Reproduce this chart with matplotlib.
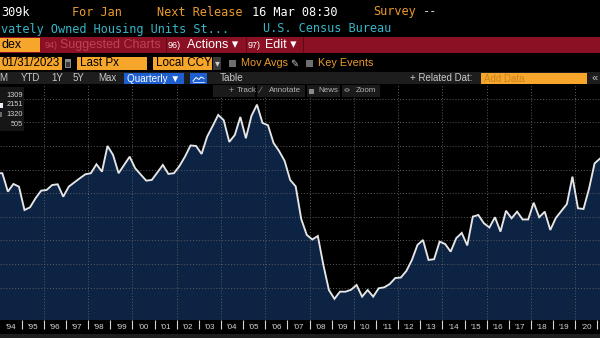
import matplotlib
matplotlib.use("Agg")
import matplotlib.pyplot as plt
from matplotlib.patches import Rectangle, Circle
from matplotlib.lines import Line2D
import numpy as np

# ---------------- data (quarterly housing starts, thousands SAAR) ----------------
first_year = 1993
first_quarter = 4
starts = [1570, 1570, 1414, 1479, 1456, 1258, 1281, 1358, 1422, 1428,
          1470, 1476, 1371, 1456, 1492, 1527, 1561, 1570, 1646, 1583,
          1801, 1725, 1570, 1640, 1710, 1612, 1559, 1507, 1513, 1576,
          1640, 1564, 1570, 1631, 1711, 1805, 1801, 1733, 1880, 1970,
          2064, 2019, 1835, 1894, 2047, 1866, 2055, 2151, 1996, 1976,
          1826, 1758, 1674, 1513, 1458, 1182, 1047, 1008, 1038, 792,
          580, 505, 566, 566, 582, 623, 524, 580, 524, 595,
          603, 631, 682, 686, 742, 835, 962, 1004, 835, 841,
          990, 970, 905, 1019, 1064, 958, 1202, 1216, 1146, 1110,
          1197, 1075, 1252, 1188, 1244, 1178, 1178, 1320, 1197, 1244,
          1089, 1191, 1250, 1309, 1541, 1273, 1267, 1439, 1653, 1695]
label_years = list(range(1994, 2021))
tick_labels = ["'%02d" % (y % 100) for y in label_years]
grid_values = [600, 800, 1000, 1200, 1400, 1600, 1800, 2000, 2200]
grid_years = list(range(1996, 2021, 2))
legend_values = ["1309", "2151", "1320", "505"]

# ---------------- figure helpers (pixel coords) ----------------
W, H = 600, 338
fig = plt.figure(figsize=(6, 3.38), dpi=100, facecolor="black")


def fx(x):
    return x / W


def fy(y):
    return 1 - y / H


def rect(x0, y0, x1, y1, color, z=5):
    fig.add_artist(Rectangle((fx(x0), fy(y1)), (x1 - x0) / W, (y1 - y0) / H,
                             transform=fig.transFigure, facecolor=color,
                             edgecolor="none", zorder=z))


def txt(x, y, s, color, size, family=("Liberation Sans", "DejaVu Sans"),
        ha="left", z=10, weight="normal"):
    fig.text(fx(x), fy(y), s, color=color, fontsize=size, family=list(family),
             ha=ha, va="center", zorder=z, weight=weight)


MONO = ("DejaVu Sans Mono", "DejaVu Sans")
ORANGE_T = "#eb9a2c"
ORANGE_B = "#f6a62a"
CYAN = "#35b6c9"
GRAYT = "#c8c8c8"

# ---------------- main chart ----------------
n = len(starts)
q_index = np.arange(n) + (first_quarter - 1)
t = first_year + q_index / 4 + 0.125

ax = fig.add_axes([0, fy(320), 1, (320 - 84) / H])
ax.set_facecolor("black")
ax.fill_between(t, starts, 0, color="#0c2343", linewidth=0, zorder=1)
ax.plot(t, starts, color="#e6e6e6", lw=1.35, zorder=3, solid_joinstyle="miter")
ax.set_xlim(1994.019, 2021.12)
ax.set_ylim(326, 2326)
for s in ax.spines.values():
    s.set_visible(False)

ax.set_yticks(grid_values)
ax.tick_params(axis="y", left=False, labelleft=False)
ax.set_axisbelow(False)
ax.grid(axis="y", color="#5c5c5c", lw=0.7, linestyle=(0, (1, 2)))
ax.vlines(grid_years, 326, 2326, colors="#5c5c5c", lw=0.7,
          linestyles=(0, (1, 2)), zorder=2.5)

ax.set_xticks(range(1995, 2022))
ax.set_xticklabels([])
ax.tick_params(axis="x", which="major", direction="out", length=6.5,
               width=0.8, color="#d5d5d5")
ax.set_xticks([y + 0.5 for y in label_years], minor=True)
ax.set_xticklabels(tick_labels, minor=True, fontsize=5.8, color="#d8d8d8",
                   family="Liberation Sans")
ax.tick_params(axis="x", which="minor", length=0, pad=3.2)

# bottom scroll strip
rect(0, 334, 600, 338, "#1e1e1e", z=4)

# ---------------- header row 1 & 2 ----------------
txt(1, 12, "309k", "white", 8.6, MONO)
txt(72, 12, "For Jan", ORANGE_T, 8.6, MONO)
txt(157, 12, "Next Release", ORANGE_T, 8.6, MONO)
txt(252, 12, "16 Mar 08:30", "white", 8.6, MONO)
txt(373, 12, "Survey", ORANGE_T, 8.6, MONO)
txt(423, 12, "--", "#d8d8d8", 8.6, MONO)
txt(1, 29, "vately Owned Housing Units St...", CYAN, 8.6, MONO)
txt(263, 29, "U.S. Census Bureau", CYAN, 8.6, MONO)

# ---------------- row 3 (red band) ----------------
rect(0, 37, 600, 53, "#8c1024")
rect(0, 38, 40, 52, ORANGE_B, z=6)
txt(1, 45, "dex", "black", 9)
txt(45, 45, "94)", "#bf4356", 6.5)
txt(60, 45, "Suggested Charts", "#bf4356", 9)
for xs in (165.5, 245.5, 303):
    rect(xs, 37, xs + 1.2, 53, "#5e0a18", z=6)
txt(168, 45, "96)", "white", 6.5)
txt(187, 45, "Actions \u25be", "white", 9)
txt(248, 45, "97)", "white", 6.5)
txt(265, 45, "Edit \u25be", "white", 9)

# ---------------- row 4 ----------------
rect(0, 57, 62, 70, ORANGE_B)
txt(1, 63.5, "01/31/2023", "black", 8.4)
rect(65, 59, 71, 68, "#8a8a8a")
rect(66, 62, 70, 67, "#3a3a3a", z=6)
rect(77, 57, 147, 70, ORANGE_B)
txt(80, 63.5, "Last Px", "black", 8.4)
rect(153, 57, 212, 70, ORANGE_B)
txt(156, 63.5, "Local CCY", "black", 8.4)
rect(213, 57, 221, 70, "#3a3a3a")
txt(217, 63.5, "\u25be", "#cccccc", 7, ha="center")
rect(229, 60, 236, 67, "#6e6e6e")
txt(241, 63.5, "Mov Avgs", ORANGE_T, 7.8)
txt(290, 63.5, "\u270e", "#cccccc", 7, family=("DejaVu Sans",))
rect(306, 60, 313, 67, "#6e6e6e")
txt(318, 63.5, "Key Events", ORANGE_T, 7.8)

# ---------------- row 5 (toolbar) ----------------
rect(0, 72, 600, 84, "#1d1d1d")
txt(-1, 78, "M", GRAYT, 7)
txt(21, 78, "YTD", GRAYT, 7)
txt(51, 78, "1Y", GRAYT, 7)
txt(73, 78, "5Y", GRAYT, 7)
txt(98, 78, "Max", GRAYT, 7)
rect(124, 73, 184, 84, "#1d5fd1", z=6)
txt(127, 78.5, "Quarterly \u25bc", "white", 7.1)
rect(190, 73, 207, 84, "#1d5fd1", z=6)
fig.add_artist(Line2D([fx(193), fx(196), fx(199), fx(201), fx(204)],
                      [fy(81), fy(77.5), fy(79.5), fy(77), fy(78.5)],
                      transform=fig.transFigure, color="white", lw=0.7, zorder=7))
fig.add_artist(Line2D([fx(193), fx(204)], [fy(82), fy(82)],
                      transform=fig.transFigure, color="white", lw=0.5, zorder=7))
txt(220, 78, "Table", GRAYT, 7.2)
txt(410, 78, "+ Related Dat:", GRAYT, 7)
rect(481, 73, 587, 84, ORANGE_B, z=6)
txt(484, 78.5, "Add Data", "#c9831f", 7)
txt(591, 78, "\u00ab", GRAYT, 8)

# ---------------- row 6 (chart buttons) ----------------
for x0, x1 in ((213, 255), (257, 305), (307, 340), (342, 380)):
    rect(x0, 85, x1, 97, "#1a1a1a", z=8)
txt(229, 91, "+", "#9a9a9a", 6.5, z=9)
txt(237, 91, "Track", "#b4b4b4", 5.8, z=9)
txt(260, 91, "\u2215", "#9a9a9a", 6.5, z=9)
txt(269, 91, "Annotate", "#b4b4b4", 5.8, z=9)
rect(309, 88.5, 314, 93.5, "#8a8a8a", z=9)
txt(318, 91, "News", "#b4b4b4", 5.8, z=9)
fig.add_artist(Circle((fx(347), fy(90)), 2.2 / W, transform=fig.transFigure,
                      facecolor="none", edgecolor="#9a9a9a", lw=0.6, zorder=9))
txt(356, 91, "Zoom", "#b4b4b4", 5.8, z=9)

# ---------------- top-left value box ----------------
rect(0, 87, 24, 131, "#161616", z=8)
for i, (v, yy) in enumerate(zip(legend_values, (95.5, 105, 114.5, 124.5))):
    txt(22.5, yy, v, "#d2d2d2", 5.3, ha="right", z=9)
rect(0, 102.5, 2.5, 107.5, "#e8eef8", z=9)
rect(0, 112, 1.5, 117, "#6a6a6a", z=9)

fig.savefig("out.png", dpi=100, facecolor="black")
